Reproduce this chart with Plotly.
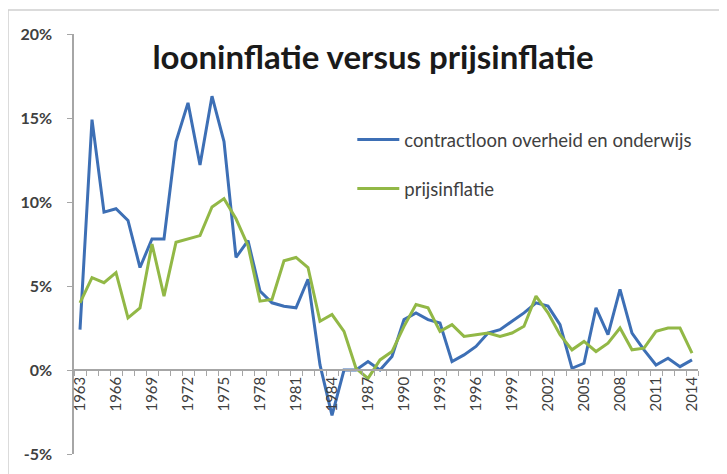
import plotly.graph_objects as go

years = list(range(1963, 2015))
contractloon = [2.4, 14.9, 9.4, 9.6, 8.9, 6.1, 7.8, 7.8, 13.6, 15.9,
                12.2, 16.3, 13.6, 6.7, 7.7, 4.7, 4.0, 3.8, 3.7, 5.4,
                0.3, -2.7, 0.0, 0.0, 0.5, 0.0, 0.8, 3.0, 3.4, 3.0,
                2.8, 0.5, 0.9, 1.4, 2.2, 2.4, 2.9, 3.4, 4.0, 3.8,
                2.7, 0.1, 0.4, 3.7, 2.1, 4.8, 2.2, 1.2, 0.3, 0.7,
                0.2, 0.6]
prijsinflatie = [4.0, 5.5, 5.2, 5.8, 3.1, 3.7, 7.5, 4.4, 7.6, 7.8,
                 8.0, 9.7, 10.2, 9.0, 7.4, 4.1, 4.2, 6.5, 6.7, 6.1,
                 2.9, 3.3, 2.3, 0.1, -0.5, 0.6, 1.1, 2.6, 3.9, 3.7,
                 2.3, 2.7, 2.0, 2.1, 2.2, 2.0, 2.2, 2.6, 4.4, 3.4,
                 2.1, 1.2, 1.7, 1.1, 1.6, 2.5, 1.2, 1.3, 2.3, 2.5,
                 2.5, 1.0]
tick_years = list(range(1963, 2015, 3))
y_ticks = [-5, 0, 5, 10, 15, 20]
y_labels = ["-5%", "0%", "5%", "10%", "15%", "20%"]
title_text = "looninflatie versus prijsinflatie"
name_blue = "contractloon overheid en onderwijs"
name_green = "prijsinflatie"

BLUE = "#3d6fb5"
GREEN = "#92b846"
AX = "#a6a6a6"
TXT = "#404040"
FONT = "Lato, 'Open Sans', sans-serif"

y_min, y_max = -5, 20

W, H = 719, 466
L, R, T, B = 66, 29, 26, 20
PW = W - L - R
PH = H - T - B

fig = go.Figure()
fig.add_trace(go.Scatter(x=years, y=contractloon, mode="lines", name=name_blue,
                         legendgroup="a",
                         line=dict(color=BLUE, width=3)))
fig.add_trace(go.Scatter(x=years, y=prijsinflatie, mode="lines", name=name_green,
                         legendgroup="b",
                         line=dict(color=GREEN, width=3)))

zero_pos = (0 - y_min) / (y_max - y_min)

fig.update_layout(
    width=W, height=H,
    margin=dict(l=L, r=R, t=T, b=B),
    paper_bgcolor="white", plot_bgcolor="white",
    font=dict(family=FONT, color=TXT),
    title=dict(text=title_text, x=(365 - L) / PW, xanchor="center", xref="paper",
               y=1 - 49 / H, yanchor="middle", yref="container",
               font=dict(size=33, color="#1a1a1a", family=FONT, weight="bold")),
    showlegend=True,
    legend=dict(x=0.446, y=0.793, xanchor="left", yanchor="top",
                bgcolor="rgba(0,0,0,0)", font=dict(size=18.5, color=TXT),
                tracegroupgap=22, itemwidth=42),
    xaxis=dict(range=[1962.5, 2014.5], anchor="free", position=zero_pos,
               tickmode="array", tickvals=tick_years,
               ticktext=[str(y) for y in tick_years],
               tickangle=-90, ticks="", tickfont=dict(size=15, color=TXT),
               showline=True, linecolor=AX, linewidth=1.5,
               showgrid=False, zeroline=False,
               minor=dict(tickmode="linear", tick0=1962.5, dtick=1,
                          ticks="outside", ticklen=5, tickcolor=AX,
                          tickwidth=1, showgrid=False)),
    yaxis=dict(range=[y_min, y_max], tickmode="array", tickvals=y_ticks,
               ticktext=y_labels, ticks="outside", ticklen=5, tickcolor=AX,
               ticklabelstandoff=12,
               tickfont=dict(size=16, color=TXT, weight="bold"),
               showline=True, linecolor=AX, linewidth=1.5,
               showgrid=False, zeroline=False),
    shapes=[dict(type="rect", xref="paper", yref="paper",
                 x0=-L / PW, x1=(W - 1 - L) / PW,
                 y0=-B / PH - 0.02, y1=1 + (T - 2) / PH,
                 line=dict(color="#d0d0d0", width=1.5), layer="below")],
)

fig.write_html("out.html")
